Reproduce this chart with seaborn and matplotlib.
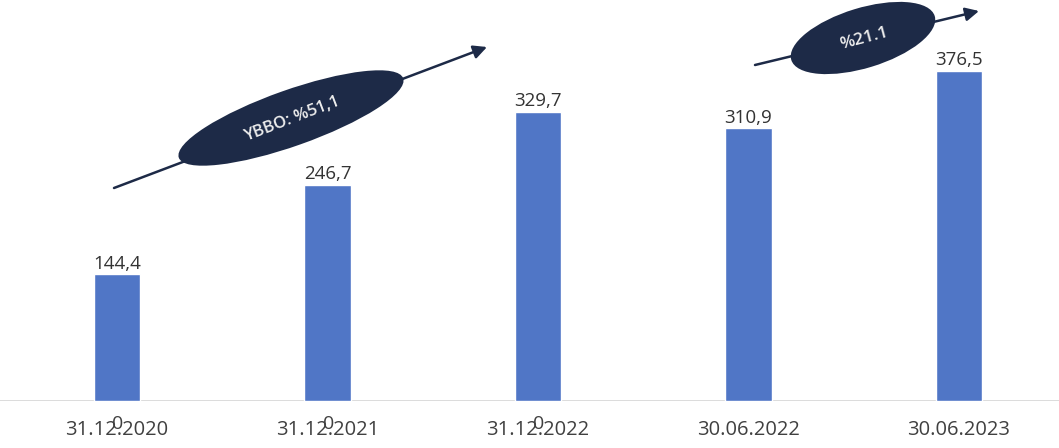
import matplotlib
matplotlib.use("Agg")
import matplotlib.pyplot as plt
from matplotlib.patches import Ellipse
import seaborn as sns
import pandas as pd

# Data
periods = ["31.12.2020", "31.12.2021", "31.12.2022", "30.06.2022", "30.06.2023"]
values = [144.4, 246.7, 329.7, 310.9, 376.5]
zero_series_labels = ["0", "0", "0", None, None]
growth_labels = ["YBBO: %51,1", "%21.1"]

sns.set_theme(style="white")
plt.rcParams["font.family"] = ["Open Sans", "DejaVu Sans"]

BAR_COLOR = "#5076c6"
NAVY = "#1d2a47"
TEXT_GRAY = "#404040"

df = pd.DataFrame({"period": periods, "value": values})

fig = plt.figure(figsize=(10.59, 4.48), dpi=100)
ax = fig.add_axes([0, 47 / 448, 1, 401 / 448])

sns.barplot(data=df, x="period", y="value", color=BAR_COLOR, width=0.22,
            saturation=1, ax=ax, zorder=3)

ax.set_xlim(-0.556, 4.475)
ax.set_ylim(0, 457)
ax.set_xlabel("")
ax.set_ylabel("")
ax.set_yticks([])
for s in ax.spines.values():
    s.set_visible(False)
ax.axhline(0, color="#d6d6d6", lw=1.2, zorder=2)

# category tick labels and faint separators between categories
ax.tick_params(axis="x", which="major", length=0, pad=14, labelsize=14.5,
               labelcolor=TEXT_GRAY)
ax.set_xticks([0.5, 1.5, 2.5, 3.5], minor=True)
ax.tick_params(axis="x", which="minor", length=7, width=0.8, color="#e4e4e4",
               direction="out")

# value labels on bars
labels = [f"{v:.1f}".replace(".", ",") for v in values]
ax.bar_label(ax.containers[0], labels=labels, padding=1, fontsize=13.5,
             color="#333333")

# zero-valued series labels sitting on the axis
for i, lab in enumerate(zero_series_labels):
    if lab:
        ax.annotate(lab, xy=(i, 0), xytext=(1, -23), textcoords="offset pixels",
                    ha="center", va="center", fontsize=14, color=TEXT_GRAY)

# growth arrows with ellipse callouts (pixel-space overlay)
ov = fig.add_axes([0, 0, 1, 1], zorder=5)
ov.set_xlim(0, 1059)
ov.set_ylim(448, 0)
ov.axis("off")

arrows = [((114, 188), (487, 47)), ((755, 65), (979, 11))]
ellipses = [((291, 118), 238, 56, -19.5), ((863, 38), 150, 60, -17)]
text_rot = [21, 15]
text_size = [12, 12.5]

for (tail, head), (c, w, h, ang), lab, rot, fs in zip(arrows, ellipses, growth_labels,
                                                       text_rot, text_size):
    ov.annotate("", xy=head, xytext=tail,
                arrowprops=dict(arrowstyle="-|>", color=NAVY, lw=1.8,
                                mutation_scale=20, shrinkA=0, shrinkB=0))
    ov.add_patch(Ellipse(c, w, h, angle=ang, facecolor=NAVY, edgecolor="none",
                         zorder=4))
    ov.text(c[0] + 1, c[1] + 1, lab, rotation=rot, ha="center", va="center",
            fontsize=fs, fontweight="semibold", color="#eeeeee", zorder=6,
            rotation_mode="anchor")

fig.savefig("out.png", dpi=100)
